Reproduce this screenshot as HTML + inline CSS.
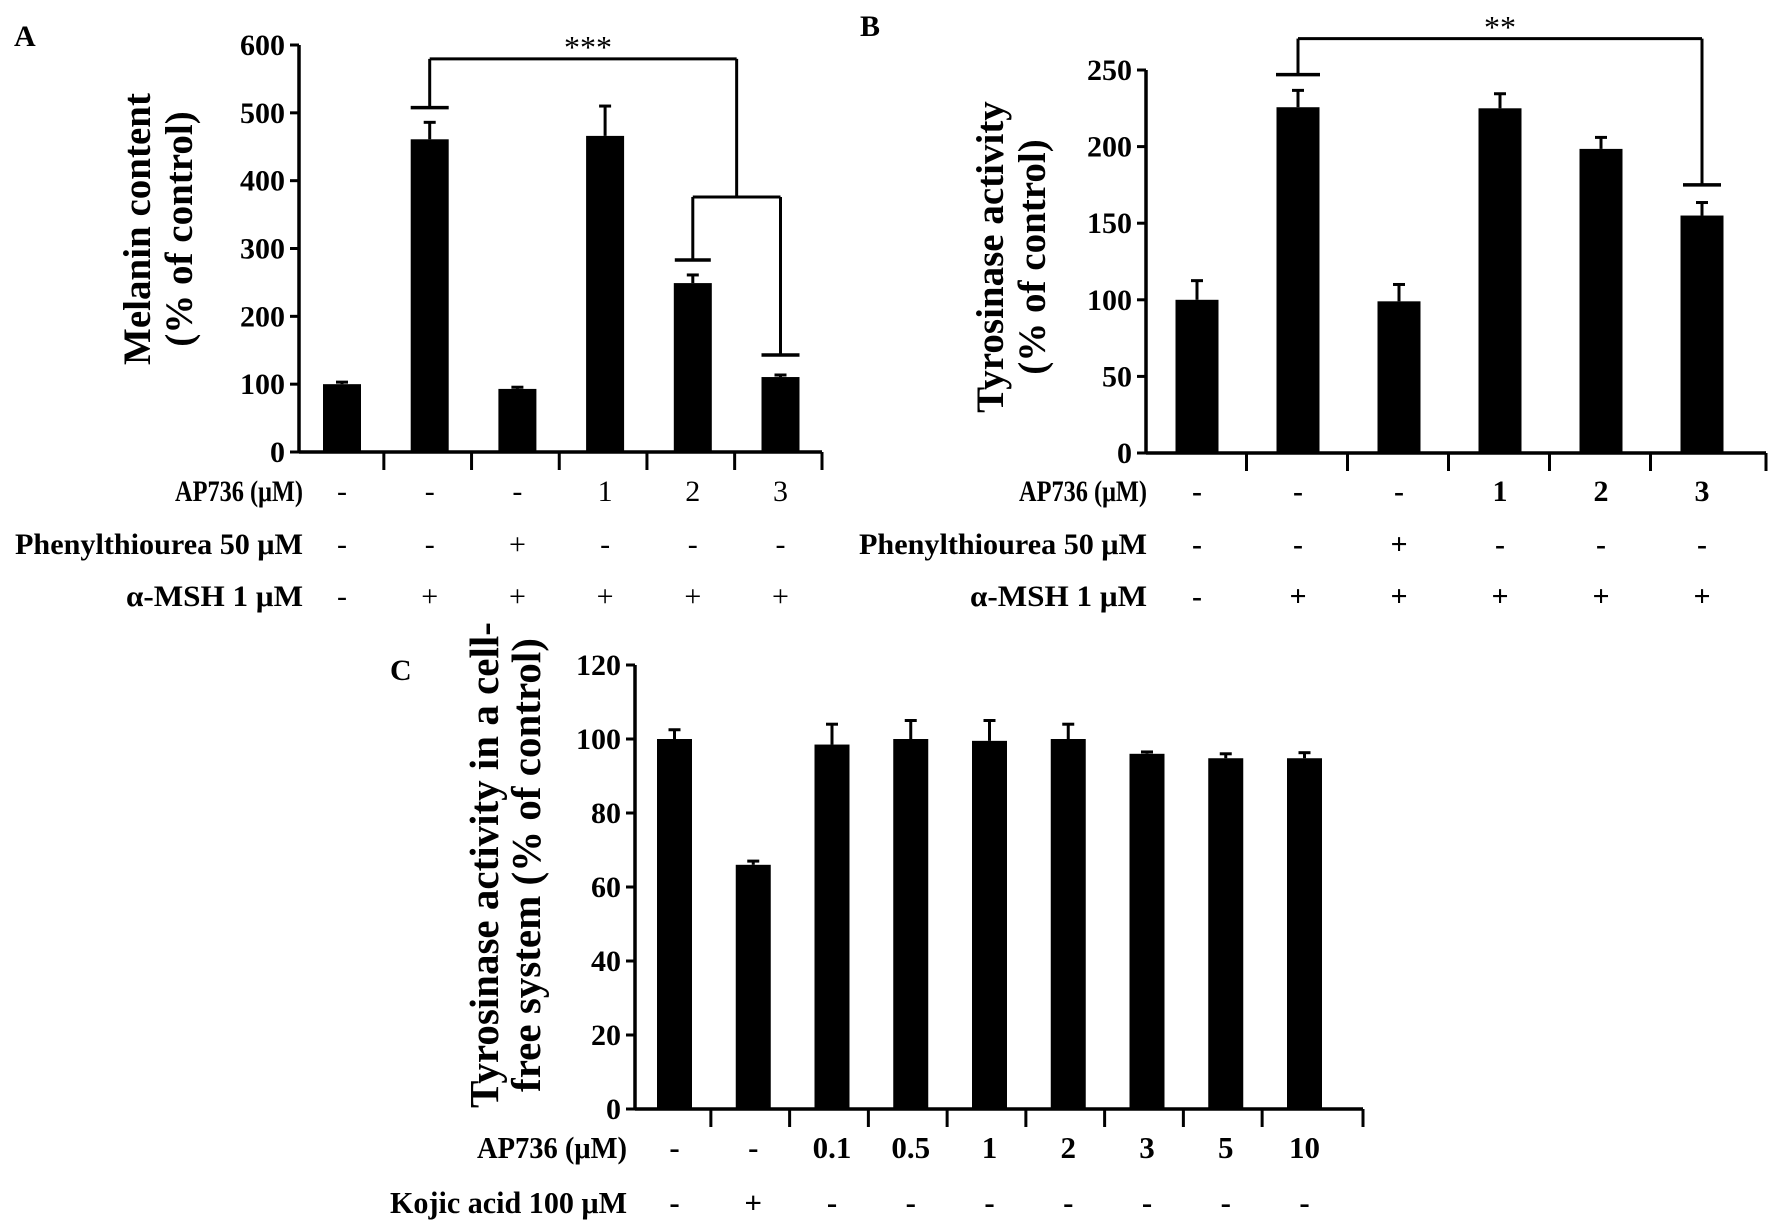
<!DOCTYPE html>
<html><head><meta charset="utf-8"><style>
html,body{margin:0;padding:0;background:#fff;}
svg{display:block;font-family:"Liberation Serif",serif;}
</style></head><body>
<svg id="fig" width="1772" height="1230" viewBox="0 0 1772 1230" xmlns="http://www.w3.org/2000/svg">
<text x="14" y="46" font-size="30" font-weight="bold">A</text>
<text x="860" y="36" font-size="30" font-weight="bold">B</text>
<text x="390" y="680" font-size="30" font-weight="bold">C</text>
<g transform="translate(150,229) rotate(-90)"><text x="0" y="0" text-anchor="middle" font-size="39" font-weight="bold">Melanin content</text><text x="0" y="42" text-anchor="middle" font-size="39" font-weight="bold">(% of control)</text></g>
<g transform="translate(1003,257) rotate(-90)"><text x="0" y="0" text-anchor="middle" font-size="39" font-weight="bold">Tyrosinase activity</text><text x="0" y="42" text-anchor="middle" font-size="39" font-weight="bold">(% of control)</text></g>
<g transform="translate(498,865) rotate(-90)"><text x="0" y="0" text-anchor="middle" font-size="41" font-weight="bold">Tyrosinase activity in a cell-</text><text x="0" y="42" text-anchor="middle" font-size="41" font-weight="bold">free system (% of control)</text></g>
</svg>
<script>
// Panel A data
const aValues = [100, 461, 93, 466, 249, 110.5];
const aErrors = [3, 25, 2.5, 44, 12, 3];
const aTicks = [0, 100, 200, 300, 400, 500, 600];
const aRowAP = ["-", "-", "-", "1", "2", "3"];
const aRowPTU = ["-", "-", "+", "-", "-", "-"];
const aRowMSH = ["-", "+", "+", "+", "+", "+"];
// Panel B data
const bValues = [100, 225.7, 99, 225, 198.5, 155];
const bErrors = [12.5, 11, 11, 9.5, 7.5, 8.5];
const bTicks = [0, 50, 100, 150, 200, 250];
const bRowAP = ["-", "-", "-", "1", "2", "3"];
const bRowPTU = ["-", "-", "+", "-", "-", "-"];
const bRowMSH = ["-", "+", "+", "+", "+", "+"];
// Panel C data
const cValues = [100, 66, 98.5, 100, 99.5, 100, 96, 94.8, 94.8];
const cErrors = [2.5, 1, 5.5, 5, 5.5, 4, 0.5, 1.2, 1.5];
const cTicks = [0, 20, 40, 60, 80, 100, 120];
const cRowAP = ["-", "-", "0.1", "0.5", "1", "2", "3", "5", "10"];
const cRowKojic = ["-", "+", "-", "-", "-", "-", "-", "-", "-"];

const NS = "http://www.w3.org/2000/svg";
const svg = document.getElementById('fig');
function mk(tag, attrs, parent) {
  const e = document.createElementNS(NS, tag);
  for (const k in attrs) e.setAttribute(k, attrs[k]);
  (parent || svg).appendChild(e);
  return e;
}
function line(x1, y1, x2, y2, w, parent) {
  return mk('line', {x1: x1, y1: y1, x2: x2, y2: y2, stroke: '#000', 'stroke-width': w || 3}, parent);
}

function panel(p) {
  const g = mk('g', {});
  
  
  const y = v => p.y0 - (v - p.vmin) / (p.vmax - p.vmin) * (p.y0 - p.yTop);
  const cx = i => p.c0 + i * p.step;
  const ax = line(p.axX, p.yTop, p.axX, p.y0 + 1.5, 3.5, g);
  
  
  p.ticks.forEach(t => {
    line(p.axX - 9, y(t), p.axX, y(t), 3, g);
    const tx = mk('text', {x: p.axX - 14, y: y(t) + 10, 'text-anchor': 'end', 'font-size': 30, 'font-weight': 'bold'}, g);
    tx.textContent = t;
    
    
  });
  const xa = line(p.axX, p.y0, p.axEnd, p.y0, 3.5, g);
  
  
  for (let i = 0; i < p.values.length - 1; i++) {
    const dx = cx(i) + p.step / 2 - p.divOff;
    line(dx, p.y0, dx, p.y0 + 18, 3, g);
  }
  line(p.axEnd, p.y0, p.axEnd, p.y0 + 18, 3, g);
  p.values.forEach((v, i) => {
    const b = mk('rect', {x: cx(i) - p.bw / 2, y: y(v), width: p.bw, height: p.y0 - y(v), fill: '#000'}, g);
    
    
    const top = y(v + p.errors[i]);
    const eb = line(cx(i), y(v), cx(i), top, 3, g);
    
    
    line(cx(i) - 6, top, cx(i) + 6, top, 3, g);
  });
  p.rows.forEach(r => {
    const lab = mk('text', {x: p.labelX, y: r.y + 11, 'text-anchor': 'end', 'font-size': p.fs, 'font-weight': 'bold', textLength: r.len, lengthAdjust: 'spacingAndGlyphs'}, g);
    lab.textContent = r.label;
    
    
    r.vals.forEach((s, i) => {
      const t = mk('text', {x: cx(i), y: r.y + 11, 'text-anchor': 'middle', 'font-size': p.fs, 'font-weight': p.valBold ? 'bold' : 'normal'}, g);
      t.textContent = s;
      
      
    });
  });
  return {g: g, y: y, cx: cx};
}

const A = panel({name: 'panel-a-chart', values: aValues, errors: aErrors, ticks: aTicks, vmin: 0, vmax: 600,
  y0: 452, yTop: 45, axX: 299, axEnd: 822, c0: 342, step: 87.7, bw: 38, divOff: 2, fs: 30, valBold: false, labelX: 303,
  rows: [{label: 'AP736 (\u03bcM)', vals: aRowAP, y: 490, len: 128},
         {label: 'Phenylthiourea 50 \u03bcM', vals: aRowPTU, y: 543, len: 288},
         {label: '\u03b1-MSH 1 \u03bcM', vals: aRowMSH, y: 595, len: 177}]});
const B = panel({name: 'panel-b-chart', values: bValues, errors: bErrors, ticks: bTicks, vmin: 0, vmax: 250,
  y0: 453, yTop: 70, axX: 1146, axEnd: 1766, c0: 1197, step: 101, bw: 43, divOff: 1, fs: 30, valBold: true, labelX: 1147,
  rows: [{label: 'AP736 (\u03bcM)', vals: bRowAP, y: 490, len: 128},
         {label: 'Phenylthiourea 50 \u03bcM', vals: bRowPTU, y: 543, len: 288},
         {label: '\u03b1-MSH 1 \u03bcM', vals: bRowMSH, y: 595, len: 177}]});
const C = panel({name: 'panel-c-chart', values: cValues, errors: cErrors, ticks: cTicks, vmin: 0, vmax: 120,
  y0: 1109, yTop: 665, axX: 635, axEnd: 1363, c0: 674.5, step: 78.75, bw: 35, divOff: 3, fs: 31, valBold: true, labelX: 627,
  rows: [{label: 'AP736 (\u03bcM)', vals: cRowAP, y: 1147, len: 150},
         {label: 'Kojic acid 100 \u03bcM', vals: cRowKojic, y: 1202, len: 237}]});

// Panel A significance
const ga = mk('g', {});


line(A.cx(4), A.y(283), A.cx(4), A.y(376), 3, ga);
line(A.cx(4), A.y(376), A.cx(5), A.y(376), 3, ga);
line(A.cx(5), A.y(376), A.cx(5), A.y(143), 3, ga);
line(A.cx(4) - 18, A.y(283), A.cx(4) + 18, A.y(283), 3.5, ga);
line(A.cx(5) - 19, A.y(143), A.cx(5) + 19, A.y(143), 3.5, ga);
const midA = (A.cx(4) + A.cx(5)) / 2;
line(A.cx(1), A.y(507.6), A.cx(1), A.y(579.5), 3, ga);
line(A.cx(1), A.y(579.5), midA, A.y(579.5), 3, ga);
line(midA, A.y(579.5), midA, A.y(376), 3, ga);
line(A.cx(1) - 19, A.y(507.6), A.cx(1) + 19, A.y(507.6), 3.5, ga);
const sa = mk('text', {x: 588, y: 58, 'text-anchor': 'middle', 'font-size': 32, 'font-weight': 'normal'}, ga);
sa.textContent = '***';


// Panel B significance
const gb = mk('g', {});


line(B.cx(1), B.y(247), B.cx(1), B.y(270.5), 3, gb);
line(B.cx(1), B.y(270.5), B.cx(5), B.y(270.5), 3, gb);
line(B.cx(5), B.y(270.5), B.cx(5), B.y(175), 3, gb);
line(B.cx(1) - 22, B.y(247), B.cx(1) + 22, B.y(247), 3.5, gb);
line(B.cx(5) - 19, B.y(175), B.cx(5) + 19, B.y(175), 3.5, gb);
const sb = mk('text', {x: 1500, y: 38, 'text-anchor': 'middle', 'font-size': 32, 'font-weight': 'normal'}, gb);
sb.textContent = '**';


</script>
</body></html>
